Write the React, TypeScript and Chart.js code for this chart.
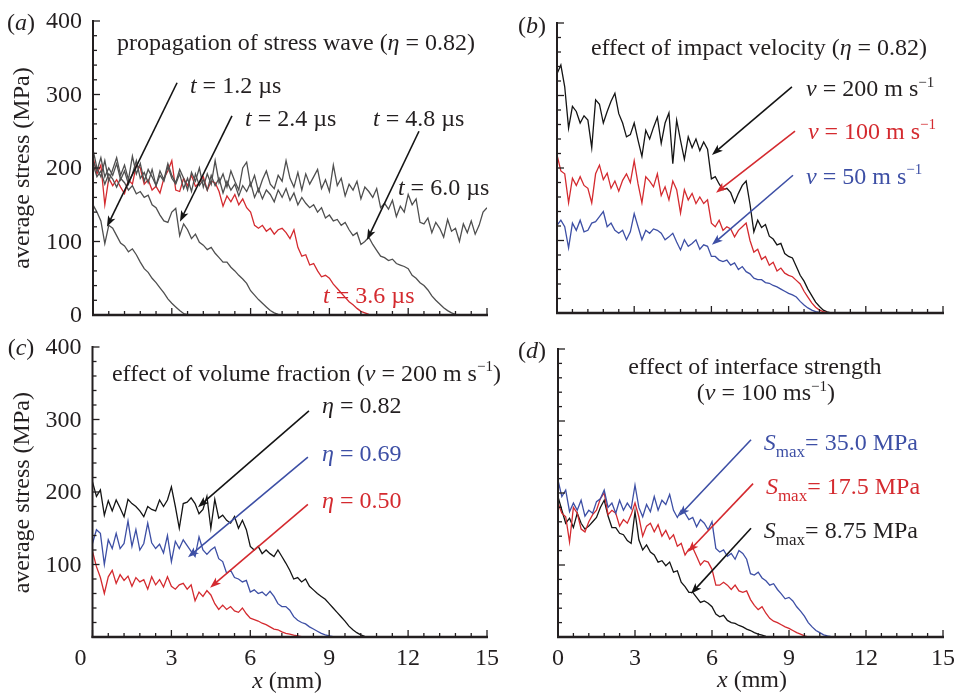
import React, { useEffect, useRef } from "react";
import { Chart, registerables } from "chart.js";
Chart.register(...registerables);

const W = 954;
const H = 693;
const SERIF = '"Liberation Serif", "Times New Roman", Times, serif';
const INK = "#231f20";
const GRAY = "#4f4f4f";
const RED = "#d42a2f";
const BLUE = "#3d4fa5";
const BLACK = "#141414";

// sample positions along the bar (mm)
const X_MM = [0,0.15,0.3,0.45,0.6,0.75,0.9,1.05,1.2,1.35,1.5,1.65,1.8,1.95,2.1,2.25,2.4,2.55,2.7,2.85,3,3.15,3.3,3.45,3.6,3.75,3.9,4.05,4.2,4.35,4.5,4.65,4.8,4.95,5.1,5.25,5.4,5.55,5.7,5.85,6,6.15,6.3,6.45,6.6,6.75,6.9,7.05,7.2,7.35,7.5,7.65,7.8,7.95,8.1,8.25,8.4,8.55,8.7,8.85,9,9.15,9.3,9.45,9.6,9.75,9.9,10.05,10.2,10.35,10.5,10.65,10.8,10.95,11.1,11.25,11.4,11.55,11.7,11.85,12,12.15,12.3,12.45,12.6,12.75,12.9,13.05,13.2,13.35,13.5,13.65,13.8,13.95,14.1,14.25,14.4,14.55,14.7,14.85,15];

// (a) propagation of stress wave
const A_T12 = [150,140,128,97,122,118,108,98,94,86,90,82,72,63,58,50,44,37,30,22,16,11,6,2,0.5,0];
const A_T24 = [205,188,196,178,192,185,174,186,180,170,176,165,168,160,163,150,146,136,128,126,140,145,108,124,116,104,110,99,95,89,92,84,78,72,72,65,60,54,49,43,33,27,21,16,11,6,3,1,0];
const A_T36 = [215,192,204,150,186,176,184,174,165,184,178,204,200,178,184,170,175,166,186,196,210,170,168,186,176,190,175,180,188,170,182,180,168,148,162,154,164,150,158,146,140,122,118,122,114,118,110,116,118,112,104,116,92,80,82,68,70,60,52,54,50,42,36,30,24,18,14,9,5,3,1,0];
const A_T48 = [210,196,214,188,200,190,206,184,196,178,192,210,186,194,180,198,176,190,182,202,186,178,192,172,186,168,192,176,184,170,190,176,186,166,182,170,178,162,176,168,180,160,172,158,170,164,154,170,160,172,156,166,150,160,152,146,150,140,146,132,136,128,130,122,126,116,108,112,96,100,106,96,88,80,78,74,76,70,68,66,63,54,50,44,40,34,26,20,15,10,6,3,1,0];
const A_T60 = [225,200,188,210,182,198,214,190,204,184,216,192,206,182,198,188,176,196,184,206,190,180,198,186,170,194,182,200,174,192,178,210,180,192,174,196,182,170,200,208,176,190,168,184,196,178,172,190,182,210,186,174,194,170,192,178,188,198,172,184,168,204,176,186,162,178,170,182,158,174,168,160,172,146,152,144,156,134,148,140,164,150,158,126,124,132,112,126,118,106,130,114,118,100,124,112,128,110,122,140,146];

// (b) effect of impact velocity
const B_V200 = [330,342,312,255,285,278,262,272,266,228,294,288,262,278,292,303,275,262,243,246,262,238,216,252,240,256,270,234,262,276,206,266,238,212,243,228,240,224,236,226,185,188,178,170,172,166,152,165,176,182,150,112,128,118,122,106,102,94,96,82,78,76,64,52,44,33,24,15,9,4,1.5,0];
const B_V100 = [218,196,192,152,186,176,188,176,172,152,192,204,184,193,172,182,168,183,192,180,210,178,152,188,182,174,192,162,174,156,182,170,138,170,156,165,151,160,151,156,124,119,128,114,119,116,105,114,119,124,100,84,88,74,78,66,70,58,62,55,52,50,45,40,30,22,14,8,4,2,0.5,0];
const B_V50 = [121,128,119,90,124,114,128,112,114,124,126,133,140,119,124,114,110,114,101,112,137,119,101,114,110,116,114,110,101,105,110,98,87,101,92,96,101,88,94,92,78,78,73,71,73,66,69,60,64,57,54,48,46,46,42,41,38,36,33,30,27,25,22,16,11,7,4,2,1,0.3,0];

// (c) effect of volume fraction
const C_082 = [214,194,203,168,188,174,189,178,166,190,184,180,174,166,180,176,174,189,180,189,207,180,150,184,186,192,184,170,176,194,150,190,164,168,161,157,166,150,161,148,125,120,125,115,120,115,111,120,111,102,92,80,82,76,80,70,65,60,56,52,46,40,34,28,22,15,10,6,3,1,0.3,0];
const C_069 = [129,148,143,100,134,122,143,122,129,160,125,148,120,129,157,130,122,128,116,140,104,132,122,134,126,118,111,138,120,114,120,124,108,104,88,92,82,80,76,78,62,65,60,62,57,63,56,46,42,42,37,28,23,20,18,14,11,8,5,3,1.5,0.5,0];
const C_050 = [118,97,82,60,83,92,74,86,78,84,70,82,76,79,66,83,72,79,69,83,70,66,72,74,66,72,50,62,56,64,58,46,38,44,38,42,36,34,40,32,26,24,22,19,17,14,11,10,7,5,4,2.5,1.5,0.5,0];

// (d) effect of interface strength
const D_350 = [218,195,204,174,186,176,190,168,176,172,188,192,204,180,186,172,190,176,186,178,211,180,167,184,174,195,176,190,184,198,176,166,176,172,163,166,153,163,158,149,160,123,118,121,112,116,108,120,116,108,88,86,90,82,78,72,74,66,60,53,55,50,42,36,29,20,14,9,6,3,1.5,0.5,0];
const D_175 = [186,172,167,132,180,172,150,146,160,170,176,192,200,170,176,172,154,163,158,170,186,167,140,154,158,146,156,140,148,136,142,126,130,114,122,124,112,100,106,104,94,72,72,76,72,66,72,64,62,64,52,44,38,42,33,26,22,20,17,14,12,9,6,4,1.5,0];
const D_875 = [195,176,158,165,152,172,158,150,154,160,166,180,190,168,152,152,144,142,134,130,174,135,121,128,118,114,104,106,99,104,90,92,76,70,62,62,55,48,50,47,42,32,28,30,23,20,19,16,14,11,9,6,4,2.5,1,0];

const Y_TICK_LABELS = [0, 100, 200, 300, 400];
const Y_TICK_LABELS_C = [100, 200, 300, 400];
const X_TICK_LABELS = [0, 3, 6, 9, 12, 15];

type Seg = { t: string; i?: boolean; sup?: boolean; sub?: boolean };
type Label = { segs: Seg[]; at: [number, number]; color: string; align?: "left" | "center" | "right"; size?: number };
type Arrow = { from: [number, number]; to: [number, number]; color: string };
type Series = { values: number[]; color: string };
interface PanelSpec {
  area: { left: number; top: number; right: number; bottom: number };
  series: Series[];
  yLabels: number[];
  xLabels: number[];
  zeroShift: number;
  letter: string;
  letterAt: [number, number];
  yTitleAt?: [number, number];
  xTitleAt?: [number, number];
  labels: Label[];
  arrows: Arrow[];
}

const eta: Seg = { t: "η", i: true };
const vee: Seg = { t: "v", i: true };
const tee: Seg = { t: "t", i: true };

const PANELS: PanelSpec[] = [
  {
    area: { left: 93, top: 21, right: 487, bottom: 315 },
    series: [
      { values: A_T12, color: GRAY },
      { values: A_T24, color: GRAY },
      { values: A_T48, color: GRAY },
      { values: A_T60, color: GRAY },
      { values: A_T36, color: RED },
    ],
    yLabels: Y_TICK_LABELS,
    xLabels: [],
    zeroShift: 0,
    letter: "a",
    letterAt: [-2.74, 399],
    yTitleAt: [-2.72, 200],
    labels: [
      { segs: [{ t: "propagation of stress wave (" }, eta, { t: " = 0.82)" }], at: [7.73, 371], color: INK, align: "center" },
      { segs: [tee, { t: " = 1.2 µs" }], at: [3.69, 313], color: INK },
      { segs: [tee, { t: " = 2.4 µs" }], at: [5.79, 268], color: INK },
      { segs: [tee, { t: " = 4.8 µs" }], at: [10.66, 268], color: INK },
      { segs: [tee, { t: " = 6.0 µs" }], at: [11.61, 174], color: INK },
      { segs: [tee, { t: " = 3.6 µs" }], at: [8.76, 27], color: RED },
    ],
    arrows: [
      { from: [3.2, 316], to: [0.53, 120], color: BLACK },
      { from: [5.29, 271], to: [3.31, 127], color: BLACK },
      { from: [12.41, 250], to: [10.43, 102], color: BLACK },
    ],
  },
  {
    area: { left: 557, top: 23, right: 943, bottom: 313 },
    series: [
      { values: B_V50, color: BLUE },
      { values: B_V100, color: RED },
      { values: B_V200, color: BLACK },
    ],
    yLabels: [],
    xLabels: [],
    zeroShift: 0,
    letter: "b",
    letterAt: [-0.97, 397],
    labels: [
      { segs: [{ t: "effect of impact velocity (" }, eta, { t: " = 0.82)" }], at: [7.85, 367], color: INK, align: "center" },
      { segs: [vee, { t: " = 200 m s" }, { t: "−1", sup: true }], at: [9.68, 310], color: INK },
      { segs: [vee, { t: " = 100 m s" }, { t: "−1", sup: true }], at: [9.75, 251], color: RED },
      { segs: [vee, { t: " = 50 m s" }, { t: "−1", sup: true }], at: [9.68, 189], color: BLUE },
    ],
    arrows: [
      { from: [9.13, 312], to: [6.02, 218], color: BLACK },
      { from: [9.25, 251], to: [6.18, 166], color: RED },
      { from: [9.17, 190], to: [6.02, 94], color: BLUE },
    ],
  },
  {
    area: { left: 92.5, top: 347, right: 487, bottom: 637 },
    series: [
      { values: C_050, color: RED },
      { values: C_069, color: BLUE },
      { values: C_082, color: BLACK },
    ],
    yLabels: Y_TICK_LABELS_C,
    xLabels: X_TICK_LABELS,
    zeroShift: -12,
    letter: "c",
    letterAt: [-2.72, 400],
    yTitleAt: [-2.7, 199],
    xTitleAt: [7.4, -59],
    labels: [
      { segs: [{ t: "effect of volume fraction (" }, vee, { t: " = 200 m s" }, { t: "−1", sup: true }, { t: ")" }], at: [0.74, 364], color: INK },
      { segs: [eta, { t: " = 0.82" }], at: [8.73, 320], color: INK },
      { segs: [eta, { t: " = 0.69" }], at: [8.73, 254], color: BLUE },
      { segs: [eta, { t: " = 0.50" }], at: [8.73, 189], color: RED },
    ],
    arrows: [
      { from: [8.23, 312], to: [4.01, 179], color: BLACK },
      { from: [8.19, 248], to: [3.63, 110], color: BLUE },
      { from: [8.19, 183], to: [4.47, 68], color: RED },
    ],
  },
  {
    area: { left: 558, top: 349, right: 943, bottom: 637 },
    series: [
      { values: D_350, color: BLUE },
      { values: D_175, color: RED },
      { values: D_875, color: BLACK },
    ],
    yLabels: [],
    xLabels: X_TICK_LABELS,
    zeroShift: 0,
    letter: "d",
    letterAt: [-1.01, 399],
    xTitleAt: [7.56, -59],
    labels: [
      { segs: [{ t: "effect of interface strength" }], at: [7.67, 376], color: INK, align: "center" },
      { segs: [{ t: "(" }, vee, { t: " = 100 ms" }, { t: "−1", sup: true }, { t: ")" }], at: [8.1, 340], color: INK, align: "center" },
      { segs: [{ t: "S", i: true }, { t: "max", sub: true }, { t: "= 35.0 MPa" }], at: [8.02, 271], color: BLUE },
      { segs: [{ t: "S", i: true }, { t: "max", sub: true }, { t: "= 17.5 MPa" }], at: [8.1, 210], color: RED },
      { segs: [{ t: "S", i: true }, { t: "max", sub: true }, { t: "= 8.75 MPa" }], at: [8.02, 149], color: INK },
    ],
    arrows: [
      { from: [7.52, 274], to: [4.71, 168], color: BLUE },
      { from: [7.6, 213], to: [5.06, 118], color: RED },
      { from: [7.52, 151], to: [5.18, 60], color: BLACK },
    ],
  },
];

const TEXT_SIZE = 24;
const TICK_SIZE = 24;

function drawRich(ctx: CanvasRenderingContext2D, segs: Seg[], x: number, y: number, size: number, color: string, align: string) {
  const fontOf = (s: Seg) => {
    const sz = s.sup ? Math.round(size * 0.62) : s.sub ? Math.round(size * 0.72) : size;
    return `${s.i ? "italic " : ""}${sz}px ${SERIF}`;
  };
  const widths = segs.map((s) => {
    ctx.font = fontOf(s);
    return ctx.measureText(s.t).width;
  });
  const total = widths.reduce((a, b) => a + b, 0);
  let cx = align === "center" ? x - total / 2 : align === "right" ? x - total : x;
  ctx.fillStyle = color;
  ctx.textAlign = "left";
  ctx.textBaseline = "alphabetic";
  const base = y + size * 0.33;
  segs.forEach((s, k) => {
    ctx.font = fontOf(s);
    const dy = s.sup ? -size * 0.4 : s.sub ? size * 0.3 : 0;
    ctx.fillText(s.t, cx, base + dy);
    cx += widths[k];
  });
}

function drawArrow(ctx: CanvasRenderingContext2D, x1: number, y1: number, x2: number, y2: number, color: string) {
  const ang = Math.atan2(y2 - y1, x2 - x1);
  const hl = 11;
  const hw = 4;
  const c = Math.cos(ang);
  const s = Math.sin(ang);
  ctx.strokeStyle = color;
  ctx.fillStyle = color;
  ctx.lineWidth = 1.6;
  ctx.beginPath();
  ctx.moveTo(x1, y1);
  ctx.lineTo(x2 - c * hl * 0.7, y2 - s * hl * 0.7);
  ctx.stroke();
  ctx.beginPath();
  ctx.moveTo(x2, y2);
  ctx.lineTo(x2 - c * hl - s * hw, y2 - s * hl + c * hw);
  ctx.lineTo(x2 - c * hl * 0.75, y2 - s * hl * 0.75);
  ctx.lineTo(x2 - c * hl + s * hw, y2 - s * hl - c * hw);
  ctx.closePath();
  ctx.fill();
}

function decorPlugin(spec: PanelSpec) {
  return {
    id: "decor",
    afterDatasetsDraw(chart: any) {
      const ctx: CanvasRenderingContext2D = chart.ctx;
      const xs = chart.scales.x;
      const ys = chart.scales.y;
      const px = (v: number) => xs.getPixelForValue(v);
      const py = (v: number) => ys.getPixelForValue(v);
      const L = px(0);
      const R = px(15);
      const T = py(400);
      const B = py(0);
      const seg = (a: number, b: number, c: number, d: number) => {
        ctx.beginPath();
        ctx.moveTo(a, b);
        ctx.lineTo(c, d);
        ctx.stroke();
      };
      ctx.save();
      ctx.strokeStyle = INK;
      ctx.lineWidth = 1.3;
      for (let v = 0; v <= 400; v += 20) {
        const p = py(v);
        seg(L, p, L + (v % 100 === 0 ? 7 : 4), p);
      }
      for (let k = 0; k <= 25; k++) {
        const p = px(k * 0.6);
        seg(p, B, p, B - (k % 5 === 0 ? 7 : 4));
      }
      ctx.lineWidth = 2;
      seg(L, T - 1, L, B + 1);
      ctx.lineWidth = 2.4;
      seg(L - 1, B, R + 1, B);

      // tick labels
      ctx.fillStyle = INK;
      ctx.font = `${TICK_SIZE}px ${SERIF}`;
      ctx.textAlign = "right";
      ctx.textBaseline = "middle";
      spec.yLabels.forEach((v) => ctx.fillText(String(v), L - 11, py(v) + 1));
      ctx.textAlign = "center";
      spec.xLabels.forEach((v) => ctx.fillText(String(v), px(v) + (v === 0 ? spec.zeroShift : 0), B + 22));

      // panel letter
      drawRich(ctx, [{ t: "(" }, { t: spec.letter, i: true }, { t: ")" }], px(spec.letterAt[0]), py(spec.letterAt[1]), TEXT_SIZE, INK, "center");

      // axis titles
      if (spec.yTitleAt) {
        ctx.save();
        ctx.translate(px(spec.yTitleAt[0]), py(spec.yTitleAt[1]));
        ctx.rotate(-Math.PI / 2);
        drawRich(ctx, [{ t: "average stress (MPa)" }], 0, 0, TEXT_SIZE, INK, "center");
        ctx.restore();
      }
      if (spec.xTitleAt) {
        drawRich(ctx, [{ t: "x", i: true }, { t: " (mm)" }], px(spec.xTitleAt[0]), py(spec.xTitleAt[1]), TEXT_SIZE, INK, "center");
      }

      spec.labels.forEach((lb) => drawRich(ctx, lb.segs, px(lb.at[0]), py(lb.at[1]), lb.size || TEXT_SIZE, lb.color, lb.align || "left"));
      spec.arrows.forEach((a) => drawArrow(ctx, px(a.from[0]), py(a.from[1]), px(a.to[0]), py(a.to[1]), a.color));
      ctx.restore();
    },
  };
}

function makeConfig(spec: PanelSpec): any {
  return {
    type: "line",
    data: {
      datasets: spec.series.map((s) => ({
        data: s.values.map((v, i) => ({ x: X_MM[i], y: v })),
        borderColor: s.color,
        borderWidth: 1.3,
        pointRadius: 0,
        tension: 0,
        fill: false,
      })),
    },
    options: {
      responsive: false,
      animation: false,
      devicePixelRatio: 1,
      events: [],
      layout: {
        padding: {
          left: spec.area.left,
          top: spec.area.top,
          right: W - spec.area.right,
          bottom: H - spec.area.bottom,
        },
      },
      plugins: { legend: { display: false }, tooltip: { enabled: false } },
      scales: {
        x: { type: "linear", min: 0, max: 15, display: false },
        y: { type: "linear", min: 0, max: 400, display: false },
      },
    },
    plugins: [decorPlugin(spec)],
  };
}

export default function App() {
  const r0 = useRef<HTMLCanvasElement>(null);
  const r1 = useRef<HTMLCanvasElement>(null);
  const r2 = useRef<HTMLCanvasElement>(null);
  const r3 = useRef<HTMLCanvasElement>(null);
  const refs = [r0, r1, r2, r3];
  useEffect(() => {
    const charts = PANELS.map((p, k) => new Chart(refs[k].current as HTMLCanvasElement, makeConfig(p)));
    return () => charts.forEach((c) => c.destroy());
  }, []);
  return (
    <div style={{ position: "absolute", left: 0, top: 0, width: W, height: H, background: "#fff" }}>
      {PANELS.map((_, k) => (
        <canvas
          key={k}
          ref={refs[k]}
          width={W}
          height={H}
          style={{ position: "absolute", left: 0, top: 0, width: W, height: H }}
        />
      ))}
    </div>
  );
}
